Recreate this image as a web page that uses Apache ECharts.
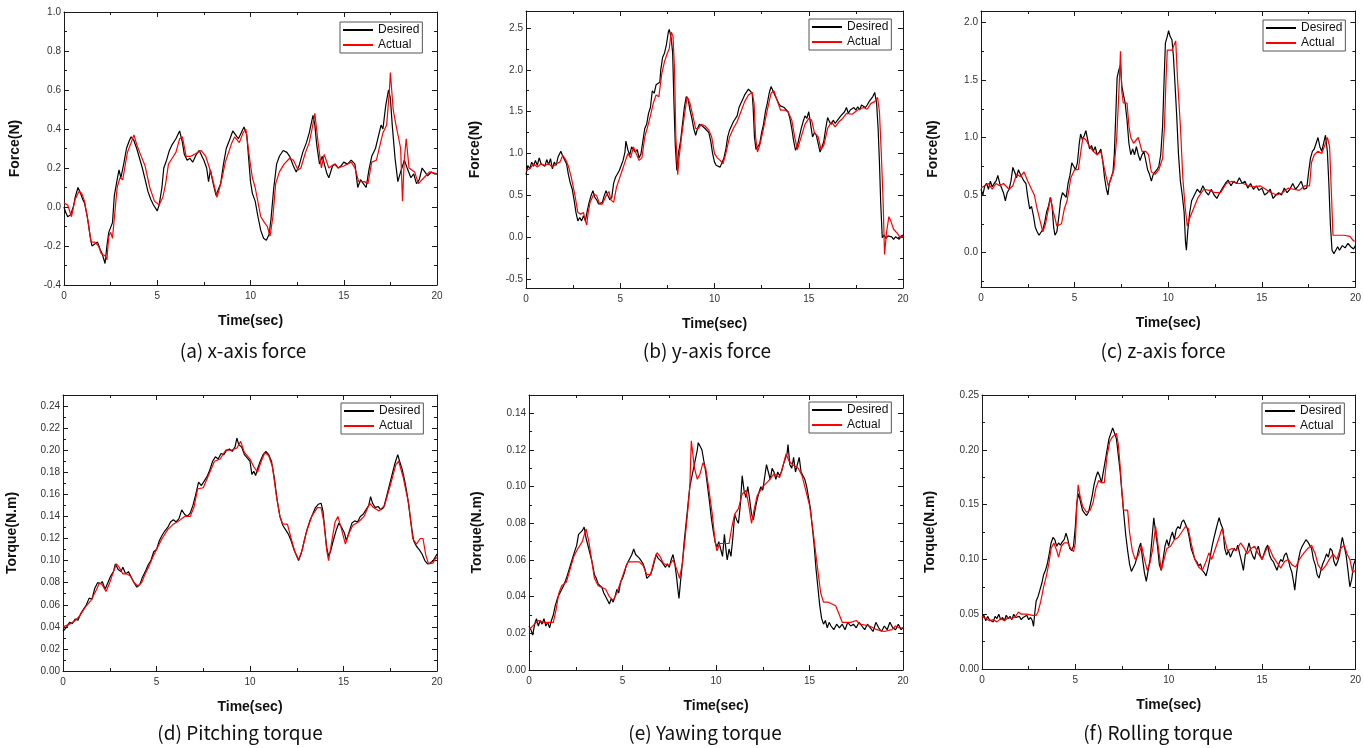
<!DOCTYPE html>
<html><head><meta charset="utf-8">
<script src="https://cdn.jsdelivr.net/npm/echarts@6/dist/echarts.min.js"></script>
<style>html,body{margin:0;padding:0;background:#fff}#c{width:1364px;height:748px}</style>
</head><body><div id="c"></div><script>
// ---------- DATA (time in sec, value) ----------
const fxDesired = [[0,0.0],[0.1,-0.03],[0.2,-0.05],[0.35,-0.04],[0.5,0.0],[0.6,0.05],[0.75,0.1],[0.85,0.08],[1.0,0.04],[1.1,0.02],[1.25,-0.05],[1.4,-0.15],[1.5,-0.2],[1.65,-0.19],[1.8,-0.18],[1.95,-0.22],[2.05,-0.24],[2.2,-0.29],[2.3,-0.2],[2.4,-0.13],[2.5,-0.14],[2.6,-0.08],[2.7,0.06],[2.85,0.14],[2.95,0.19],[3.05,0.15],[3.2,0.22],[3.35,0.3],[3.5,0.34],[3.6,0.36],[3.75,0.34],[3.9,0.3],[4.05,0.25],[4.2,0.2],[4.35,0.14],[4.5,0.08],[4.65,0.04],[4.8,0.01],[5.0,-0.02],[5.1,0.01],[5.25,0.1],[5.35,0.2],[5.5,0.24],[5.65,0.29],[5.8,0.32],[6.0,0.35],[6.2,0.39],[6.35,0.33],[6.45,0.27],[6.6,0.24],[6.75,0.25],[6.9,0.23],[7.1,0.27],[7.25,0.29],[7.35,0.3],[7.5,0.24],[7.65,0.2],[7.75,0.13],[7.85,0.19],[8.0,0.12],[8.15,0.06],[8.25,0.05],[8.4,0.12],[8.55,0.22],[8.7,0.3],[8.9,0.35],[9.05,0.39],[9.2,0.37],[9.35,0.35],[9.5,0.38],[9.65,0.41],[9.8,0.37],[9.9,0.25],[10.0,0.13],[10.1,0.07],[10.25,0.03],[10.4,-0.05],[10.55,-0.12],[10.7,-0.16],[10.85,-0.17],[11.0,-0.14],[11.1,-0.06],[11.25,0.1],[11.4,0.22],[11.55,0.26],[11.75,0.29],[11.95,0.28],[12.1,0.26],[12.3,0.21],[12.45,0.18],[12.6,0.21],[12.8,0.28],[13.0,0.33],[13.15,0.38],[13.35,0.47],[13.45,0.42],[13.55,0.32],[13.7,0.22],[13.85,0.26],[13.95,0.25],[14.1,0.17],[14.2,0.15],[14.4,0.21],[14.55,0.22],[14.7,0.2],[14.85,0.21],[15.0,0.23],[15.2,0.22],[15.4,0.24],[15.6,0.22],[15.75,0.1],[15.9,0.14],[16.05,0.12],[16.2,0.1],[16.35,0.19],[16.5,0.26],[16.7,0.3],[16.85,0.36],[17.0,0.42],[17.1,0.4],[17.25,0.52],[17.4,0.6],[17.5,0.56],[17.6,0.42],[17.75,0.25],[17.9,0.13],[18.05,0.18],[18.25,0.24],[18.4,0.2],[18.6,0.15],[18.75,0.17],[18.9,0.12],[19.05,0.14],[19.2,0.2],[19.35,0.18],[19.5,0.16],[19.7,0.18],[19.85,0.17],[20,0.17]];
const fxActual = [[0,0.02],[0.2,0.01],[0.4,-0.05],[0.6,0.04],[0.8,0.08],[0.95,0.07],[1.1,0.03],[1.3,-0.08],[1.45,-0.18],[1.65,-0.18],[1.85,-0.2],[2.0,-0.24],[2.2,-0.25],[2.3,-0.27],[2.4,-0.15],[2.5,-0.13],[2.6,-0.16],[2.7,-0.15],[2.85,0.1],[3.0,0.15],[3.15,0.14],[3.25,0.13],[3.4,0.28],[3.6,0.33],[3.75,0.37],[3.9,0.32],[4.1,0.27],[4.35,0.21],[4.6,0.1],[4.85,0.03],[5.1,0.01],[5.3,0.05],[5.45,0.12],[5.6,0.22],[5.8,0.25],[6.0,0.28],[6.2,0.35],[6.35,0.36],[6.55,0.26],[6.8,0.26],[7.0,0.27],[7.35,0.29],[7.6,0.26],[7.8,0.2],[7.95,0.15],[8.2,0.05],[8.35,0.1],[8.5,0.16],[8.65,0.23],[9.0,0.33],[9.15,0.36],[9.4,0.33],[9.6,0.38],[9.75,0.4],[9.95,0.25],[10.1,0.15],[10.25,0.1],[10.35,0.1],[10.55,-0.05],[10.75,-0.08],[10.9,-0.1],[11.05,-0.15],[11.2,-0.05],[11.35,0.12],[11.55,0.18],[11.8,0.22],[12.1,0.25],[12.3,0.24],[12.55,0.19],[12.7,0.2],[12.95,0.28],[13.15,0.33],[13.3,0.4],[13.45,0.48],[13.6,0.35],[13.8,0.2],[13.95,0.27],[14.2,0.2],[14.5,0.22],[14.7,0.2],[15.0,0.21],[15.4,0.23],[15.6,0.2],[15.8,0.13],[16.1,0.13],[16.3,0.12],[16.5,0.23],[16.75,0.24],[17.1,0.38],[17.3,0.42],[17.45,0.6],[17.5,0.69],[17.65,0.5],[17.8,0.42],[17.95,0.35],[18.05,0.3],[18.15,0.03],[18.25,0.25],[18.35,0.35],[18.5,0.2],[18.8,0.18],[19.0,0.12],[19.3,0.15],[19.6,0.18],[20,0.17]];

const fyDesired = [[0,0.75],[0.1,0.86],[0.2,0.82],[0.3,0.9],[0.4,0.85],[0.5,0.92],[0.6,0.86],[0.7,0.95],[0.8,0.88],[0.9,0.9],[1.0,0.85],[1.1,0.93],[1.2,0.87],[1.3,0.94],[1.4,0.82],[1.5,0.9],[1.6,0.86],[1.7,0.96],[1.8,0.98],[1.85,1.03],[1.95,0.97],[2.05,0.95],[2.15,0.88],[2.25,0.75],[2.35,0.65],[2.45,0.58],[2.55,0.45],[2.65,0.3],[2.75,0.2],[2.85,0.24],[2.95,0.2],[3.05,0.26],[3.15,0.2],[3.25,0.32],[3.35,0.42],[3.45,0.5],[3.55,0.56],[3.65,0.48],[3.75,0.45],[3.85,0.4],[3.95,0.38],[4.05,0.42],[4.15,0.5],[4.25,0.56],[4.35,0.5],[4.45,0.45],[4.55,0.48],[4.65,0.65],[4.75,0.72],[4.85,0.7],[4.95,0.8],[5.05,0.86],[5.15,0.92],[5.25,1.02],[5.3,1.15],[5.4,1.05],[5.5,0.98],[5.6,1.08],[5.7,1.1],[5.8,1.02],[5.9,1.05],[6.0,0.95],[6.1,1.0],[6.2,1.15],[6.3,1.3],[6.4,1.35],[6.5,1.48],[6.6,1.55],[6.7,1.75],[6.8,1.72],[6.9,1.82],[7.0,1.8],[7.1,1.85],[7.15,2.0],[7.25,2.15],[7.35,2.2],[7.45,2.3],[7.55,2.45],[7.6,2.48],[7.7,2.38],[7.78,2.2],[7.85,1.6],[7.92,1.1],[8.0,0.8],[8.08,1.0],[8.2,1.15],[8.3,1.35],[8.4,1.55],[8.5,1.68],[8.6,1.65],[8.7,1.52],[8.8,1.42],[8.9,1.3],[9.0,1.22],[9.1,1.3],[9.2,1.35],[9.35,1.33],[9.5,1.3],[9.6,1.3],[9.7,1.25],[9.8,1.15],[9.9,1.0],[10.0,0.9],[10.1,0.86],[10.2,0.88],[10.3,0.84],[10.4,0.86],[10.5,0.95],[10.6,1.05],[10.7,1.2],[10.8,1.28],[10.9,1.3],[11.0,1.38],[11.1,1.4],[11.2,1.45],[11.3,1.55],[11.4,1.6],[11.5,1.65],[11.6,1.7],[11.7,1.72],[11.8,1.77],[11.9,1.78],[12.0,1.72],[12.05,1.55],[12.12,1.2],[12.2,1.05],[12.3,1.05],[12.4,1.12],[12.5,1.25],[12.6,1.35],[12.7,1.5],[12.8,1.6],[12.9,1.72],[13.0,1.8],[13.1,1.78],[13.2,1.7],[13.3,1.68],[13.4,1.6],[13.5,1.57],[13.6,1.58],[13.7,1.55],[13.8,1.56],[13.9,1.5],[14.0,1.42],[14.1,1.3],[14.2,1.15],[14.3,1.04],[14.4,1.1],[14.5,1.2],[14.6,1.3],[14.7,1.38],[14.8,1.45],[14.9,1.42],[15.0,1.5],[15.1,1.35],[15.2,1.2],[15.3,1.25],[15.4,1.22],[15.5,1.12],[15.6,1.02],[15.7,1.08],[15.8,1.15],[15.9,1.3],[16.0,1.43],[16.1,1.38],[16.2,1.35],[16.3,1.4],[16.4,1.36],[16.5,1.38],[16.6,1.42],[16.7,1.45],[16.8,1.44],[16.9,1.5],[17.0,1.55],[17.1,1.48],[17.2,1.52],[17.3,1.5],[17.4,1.55],[17.5,1.52],[17.6,1.56],[17.7,1.52],[17.8,1.58],[17.9,1.6],[18.0,1.55],[18.1,1.58],[18.2,1.62],[18.3,1.6],[18.4,1.68],[18.5,1.73],[18.6,1.6],[18.68,1.3],[18.75,0.9],[18.82,0.4],[18.9,0.0],[19.0,0.03],[19.1,-0.01],[19.2,0.02],[19.3,0.0],[19.4,0.01],[19.5,-0.02],[19.6,0.01],[19.7,-0.01],[19.8,-0.02],[19.9,0.02],[20,0.03]];
const fyActual = [[0,0.8],[0.2,0.82],[0.4,0.88],[0.6,0.84],[0.8,0.88],[1.0,0.86],[1.2,0.88],[1.4,0.84],[1.6,0.88],[1.8,0.9],[1.95,0.98],[2.1,0.93],[2.25,0.85],[2.4,0.72],[2.5,0.72],[2.6,0.5],[2.75,0.3],[2.9,0.28],[3.05,0.3],[3.15,0.2],[3.22,0.15],[3.3,0.3],[3.4,0.42],[3.6,0.52],[3.75,0.5],[3.9,0.4],[4.05,0.4],[4.25,0.5],[4.4,0.55],[4.5,0.45],[4.65,0.42],[4.8,0.6],[4.95,0.7],[5.1,0.8],[5.25,0.9],[5.4,1.0],[5.55,0.95],[5.7,1.08],[5.85,1.0],[6.0,0.92],[6.15,0.95],[6.3,1.2],[6.45,1.32],[6.6,1.45],[6.75,1.6],[6.9,1.7],[7.05,1.68],[7.2,1.95],[7.35,2.1],[7.5,2.2],[7.6,2.25],[7.7,2.45],[7.8,2.4],[7.88,2.0],[7.95,1.2],[8.05,0.75],[8.12,0.95],[8.25,1.2],[8.4,1.45],[8.55,1.68],[8.7,1.6],[8.85,1.45],[9.0,1.3],[9.15,1.3],[9.3,1.35],[9.5,1.33],[9.7,1.28],[9.85,1.2],[10.0,1.0],[10.15,0.95],[10.3,0.92],[10.45,0.88],[10.6,1.0],[10.8,1.2],[11.0,1.3],[11.2,1.38],[11.4,1.5],[11.6,1.62],[11.8,1.7],[12.0,1.73],[12.1,1.6],[12.18,1.2],[12.28,1.02],[12.4,1.1],[12.6,1.3],[12.8,1.52],[13.0,1.72],[13.15,1.75],[13.3,1.65],[13.5,1.52],[13.7,1.52],[13.9,1.5],[14.1,1.4],[14.25,1.2],[14.4,1.05],[14.6,1.2],[14.8,1.35],[15.0,1.42],[15.15,1.4],[15.3,1.25],[15.5,1.2],[15.65,1.05],[15.8,1.1],[16.0,1.3],[16.2,1.38],[16.4,1.32],[16.6,1.38],[16.8,1.42],[17.0,1.48],[17.3,1.47],[17.6,1.52],[17.9,1.55],[18.1,1.53],[18.3,1.6],[18.5,1.62],[18.65,1.67],[18.75,1.5],[18.85,1.0],[18.95,0.4],[19.02,-0.2],[19.12,0.05],[19.25,0.25],[19.35,0.2],[19.5,0.1],[19.7,0.05],[19.85,0.0],[20,0.02]];

const fzDesired = [[0,0.55],[0.1,0.5],[0.2,0.58],[0.3,0.6],[0.4,0.55],[0.5,0.62],[0.6,0.57],[0.7,0.6],[0.8,0.62],[0.9,0.67],[1.0,0.6],[1.1,0.56],[1.2,0.52],[1.3,0.45],[1.4,0.52],[1.5,0.55],[1.6,0.62],[1.7,0.74],[1.8,0.7],[1.9,0.65],[2.0,0.72],[2.1,0.68],[2.2,0.65],[2.3,0.62],[2.4,0.6],[2.5,0.48],[2.6,0.38],[2.7,0.4],[2.8,0.32],[2.9,0.22],[3.0,0.18],[3.1,0.15],[3.2,0.16],[3.3,0.2],[3.4,0.26],[3.5,0.35],[3.6,0.4],[3.7,0.48],[3.8,0.4],[3.88,0.22],[3.95,0.15],[4.05,0.18],[4.15,0.3],[4.25,0.45],[4.35,0.52],[4.45,0.5],[4.55,0.48],[4.65,0.6],[4.75,0.67],[4.85,0.78],[4.95,0.75],[5.05,0.72],[5.15,0.78],[5.25,0.95],[5.32,1.03],[5.42,0.98],[5.52,1.02],[5.6,1.06],[5.7,0.98],[5.8,0.9],[5.9,0.93],[6.0,0.88],[6.1,0.92],[6.2,0.85],[6.3,0.87],[6.4,0.9],[6.5,0.8],[6.6,0.65],[6.7,0.55],[6.78,0.5],[6.85,0.6],[6.95,0.65],[7.05,0.7],[7.12,0.85],[7.2,1.2],[7.27,1.52],[7.35,1.58],[7.45,1.63],[7.52,1.45],[7.6,1.38],[7.7,1.3],[7.8,1.15],[7.9,0.95],[8.0,0.85],[8.1,0.9],[8.2,0.85],[8.3,0.92],[8.4,0.85],[8.5,0.8],[8.6,0.85],[8.7,0.88],[8.8,0.8],[8.9,0.72],[9.0,0.68],[9.1,0.62],[9.2,0.68],[9.3,0.7],[9.4,0.72],[9.5,0.75],[9.6,0.85],[9.7,1.1],[9.78,1.5],[9.85,1.82],[9.95,1.88],[10.02,1.93],[10.1,1.88],[10.2,1.85],[10.28,1.7],[10.35,1.5],[10.45,1.2],[10.55,0.85],[10.65,0.62],[10.75,0.5],[10.85,0.35],[10.92,0.1],[10.97,0.02],[11.05,0.2],[11.15,0.35],[11.25,0.45],[11.4,0.5],[11.55,0.55],[11.7,0.52],[11.85,0.58],[12.0,0.53],[12.15,0.5],[12.3,0.55],[12.45,0.5],[12.6,0.47],[12.75,0.52],[12.9,0.56],[13.05,0.6],[13.2,0.63],[13.35,0.58],[13.5,0.62],[13.65,0.6],[13.8,0.65],[13.95,0.6],[14.1,0.62],[14.25,0.56],[14.4,0.6],[14.55,0.55],[14.7,0.58],[14.85,0.54],[15.0,0.56],[15.15,0.5],[15.3,0.52],[15.45,0.55],[15.6,0.47],[15.75,0.5],[15.9,0.52],[16.05,0.5],[16.2,0.56],[16.35,0.52],[16.5,0.55],[16.65,0.6],[16.8,0.55],[16.95,0.58],[17.1,0.62],[17.25,0.55],[17.4,0.56],[17.5,0.7],[17.6,0.82],[17.7,0.88],[17.8,0.9],[17.9,0.95],[18.0,1.0],[18.1,0.92],[18.2,0.88],[18.3,0.95],[18.4,1.02],[18.5,0.88],[18.58,0.6],[18.66,0.25],[18.75,0.02],[18.85,-0.01],[18.95,0.02],[19.05,0.05],[19.15,0.02],[19.3,0.06],[19.45,0.04],[19.6,0.08],[19.75,0.05],[19.9,0.03],[20,0.06]];
const fzActual = [[0,0.56],[0.2,0.58],[0.4,0.6],[0.6,0.55],[0.8,0.6],[1.0,0.58],[1.2,0.6],[1.5,0.55],[1.7,0.58],[1.9,0.68],[2.1,0.66],[2.3,0.7],[2.5,0.62],[2.7,0.55],[2.85,0.5],[3.0,0.38],[3.15,0.28],[3.3,0.18],[3.45,0.25],[3.6,0.38],[3.72,0.48],[3.82,0.38],[3.95,0.3],[4.05,0.23],[4.3,0.25],[4.45,0.38],[4.6,0.45],[4.8,0.65],[5.0,0.72],[5.2,0.72],[5.35,0.9],[5.45,1.0],[5.6,0.98],[5.8,0.92],[6.0,0.88],[6.2,0.85],[6.4,0.88],[6.6,0.72],[6.8,0.58],[6.9,0.62],[7.1,0.72],[7.25,1.0],[7.38,1.45],[7.45,1.75],[7.52,1.4],[7.6,1.3],[7.8,1.3],[7.9,1.1],[8.0,1.0],[8.15,0.95],[8.4,1.0],[8.6,0.88],[8.8,0.88],[8.95,0.85],[9.1,0.7],[9.3,0.68],[9.5,0.72],[9.7,0.82],[9.8,1.1],[9.88,1.5],[9.95,1.76],[10.2,1.76],[10.3,1.8],[10.4,1.84],[10.5,1.5],[10.65,1.1],[10.78,0.65],[10.9,0.4],[11.02,0.23],[11.15,0.3],[11.35,0.38],[11.6,0.48],[11.9,0.55],[12.2,0.54],[12.5,0.52],[12.8,0.52],[13.1,0.6],[13.4,0.62],[13.7,0.6],[14.0,0.6],[14.3,0.58],[14.6,0.57],[14.9,0.58],[15.2,0.55],[15.5,0.52],[15.8,0.5],[16.1,0.52],[16.4,0.56],[16.7,0.55],[17.0,0.54],[17.3,0.58],[17.55,0.58],[17.65,0.78],[17.8,0.85],[18.0,0.88],[18.2,0.86],[18.4,0.95],[18.5,1.0],[18.62,0.92],[18.72,0.5],[18.8,0.15],[19.0,0.15],[19.4,0.15],[19.7,0.14],[19.9,0.1],[20,0.1]];

const tpDesired = [[0,0.036],[0.2,0.04],[0.35,0.044],[0.5,0.043],[0.65,0.047],[0.8,0.046],[0.95,0.052],[1.1,0.056],[1.25,0.06],[1.4,0.066],[1.55,0.065],[1.7,0.075],[1.85,0.08],[2.0,0.079],[2.1,0.081],[2.25,0.074],[2.4,0.08],[2.55,0.086],[2.7,0.09],[2.8,0.097],[2.95,0.092],[3.1,0.09],[3.2,0.094],[3.35,0.088],[3.5,0.09],[3.65,0.085],[3.8,0.08],[3.95,0.076],[4.1,0.078],[4.25,0.085],[4.4,0.09],[4.55,0.096],[4.7,0.1],[4.85,0.108],[5.0,0.11],[5.15,0.118],[5.3,0.123],[5.45,0.127],[5.6,0.13],[5.75,0.135],[5.9,0.137],[6.05,0.135],[6.2,0.138],[6.35,0.146],[6.5,0.142],[6.65,0.14],[6.8,0.143],[6.95,0.15],[7.1,0.16],[7.25,0.171],[7.4,0.168],[7.55,0.172],[7.7,0.176],[7.85,0.182],[8.0,0.19],[8.15,0.194],[8.3,0.192],[8.45,0.197],[8.6,0.196],[8.75,0.2],[8.9,0.201],[9.05,0.199],[9.2,0.203],[9.3,0.211],[9.4,0.205],[9.55,0.203],[9.7,0.196],[9.85,0.193],[10.0,0.19],[10.1,0.178],[10.2,0.181],[10.3,0.177],[10.4,0.183],[10.55,0.19],[10.7,0.196],[10.85,0.199],[11.0,0.196],[11.15,0.19],[11.3,0.175],[11.45,0.155],[11.6,0.14],[11.75,0.132],[11.9,0.128],[12.05,0.124],[12.2,0.118],[12.35,0.11],[12.5,0.104],[12.6,0.1],[12.75,0.107],[12.9,0.118],[13.05,0.128],[13.2,0.136],[13.35,0.142],[13.5,0.148],[13.65,0.151],[13.8,0.152],[13.9,0.145],[14.0,0.128],[14.1,0.112],[14.2,0.104],[14.3,0.108],[14.45,0.118],[14.6,0.127],[14.75,0.134],[14.9,0.13],[15.05,0.125],[15.15,0.118],[15.3,0.126],[15.45,0.134],[15.6,0.136],[15.75,0.135],[15.9,0.14],[16.05,0.142],[16.2,0.146],[16.35,0.15],[16.45,0.158],[16.55,0.152],[16.7,0.148],[16.85,0.149],[17.0,0.146],[17.15,0.148],[17.3,0.158],[17.45,0.168],[17.6,0.178],[17.75,0.188],[17.9,0.196],[18.0,0.19],[18.15,0.182],[18.3,0.17],[18.45,0.155],[18.6,0.135],[18.75,0.118],[18.9,0.113],[19.05,0.11],[19.2,0.106],[19.35,0.1],[19.5,0.097],[19.65,0.098],[19.8,0.1],[19.9,0.103],[20,0.106]];
const tpActual = [[0,0.04],[0.3,0.042],[0.6,0.045],[0.9,0.05],[1.2,0.058],[1.5,0.064],[1.8,0.074],[1.95,0.08],[2.1,0.078],[2.3,0.072],[2.5,0.08],[2.7,0.09],[2.85,0.097],[3.0,0.094],[3.2,0.088],[3.4,0.088],[3.6,0.086],[3.8,0.08],[4.0,0.077],[4.2,0.08],[4.4,0.088],[4.6,0.095],[4.8,0.103],[5.0,0.11],[5.3,0.12],[5.6,0.128],[5.9,0.133],[6.2,0.136],[6.5,0.14],[6.8,0.14],[7.0,0.148],[7.2,0.165],[7.5,0.166],[7.8,0.178],[8.1,0.19],[8.4,0.192],[8.7,0.2],[9.0,0.2],[9.3,0.202],[9.5,0.208],[9.7,0.198],[10.0,0.192],[10.2,0.185],[10.4,0.18],[10.6,0.19],[10.8,0.198],[11.0,0.195],[11.2,0.185],[11.4,0.16],[11.6,0.14],[11.75,0.133],[12.0,0.133],[12.2,0.12],[12.4,0.108],[12.6,0.101],[12.8,0.11],[13.0,0.125],[13.3,0.14],[13.6,0.148],[13.8,0.148],[13.95,0.135],[14.1,0.11],[14.2,0.1],[14.35,0.115],[14.55,0.135],[14.7,0.14],[14.9,0.128],[15.1,0.115],[15.3,0.125],[15.5,0.132],[15.8,0.135],[16.1,0.14],[16.4,0.152],[16.6,0.148],[16.9,0.145],[17.2,0.15],[17.5,0.168],[17.8,0.187],[17.95,0.19],[18.2,0.175],[18.5,0.15],[18.7,0.12],[18.9,0.115],[19.1,0.12],[19.25,0.12],[19.4,0.105],[19.55,0.097],[19.8,0.098],[19.95,0.103],[20,0.102]];

const tyDesired = [[0,0.024],[0.1,0.022],[0.2,0.019],[0.3,0.025],[0.4,0.028],[0.5,0.024],[0.6,0.027],[0.7,0.025],[0.8,0.028],[0.9,0.024],[1.0,0.026],[1.1,0.023],[1.2,0.027],[1.3,0.03],[1.4,0.035],[1.55,0.04],[1.7,0.043],[1.85,0.046],[2.0,0.05],[2.15,0.055],[2.3,0.06],[2.45,0.065],[2.55,0.068],[2.65,0.074],[2.75,0.073],[2.85,0.076],[2.95,0.078],[3.05,0.072],[3.2,0.066],[3.35,0.06],[3.5,0.052],[3.6,0.05],[3.7,0.047],[3.8,0.048],[3.9,0.045],[4.0,0.042],[4.1,0.043],[4.2,0.038],[4.3,0.036],[4.4,0.039],[4.5,0.037],[4.6,0.04],[4.7,0.044],[4.8,0.042],[4.9,0.048],[5.0,0.05],[5.1,0.053],[5.2,0.057],[5.35,0.06],[5.5,0.063],[5.6,0.066],[5.7,0.063],[5.8,0.064],[5.9,0.061],[6.0,0.06],[6.1,0.058],[6.2,0.055],[6.3,0.05],[6.4,0.051],[6.5,0.052],[6.6,0.055],[6.7,0.059],[6.8,0.063],[6.9,0.061],[7.0,0.062],[7.1,0.059],[7.2,0.06],[7.3,0.056],[7.4,0.058],[7.5,0.056],[7.6,0.06],[7.7,0.063],[7.8,0.058],[7.9,0.05],[7.95,0.045],[8.02,0.039],[8.1,0.048],[8.2,0.058],[8.3,0.07],[8.4,0.08],[8.5,0.09],[8.6,0.1],[8.7,0.105],[8.8,0.11],[8.9,0.115],[9.0,0.12],[9.05,0.124],[9.15,0.122],[9.25,0.12],[9.35,0.114],[9.45,0.108],[9.55,0.1],[9.65,0.092],[9.75,0.083],[9.85,0.076],[9.95,0.07],[10.05,0.067],[10.15,0.07],[10.25,0.066],[10.35,0.062],[10.45,0.074],[10.55,0.064],[10.6,0.06],[10.7,0.066],[10.8,0.062],[10.9,0.072],[11.0,0.085],[11.1,0.082],[11.2,0.08],[11.3,0.09],[11.4,0.106],[11.5,0.098],[11.6,0.094],[11.7,0.1],[11.8,0.093],[11.9,0.085],[12.0,0.082],[12.1,0.088],[12.2,0.093],[12.3,0.097],[12.4,0.1],[12.5,0.098],[12.6,0.105],[12.7,0.112],[12.8,0.108],[12.9,0.104],[13.0,0.11],[13.1,0.108],[13.2,0.104],[13.3,0.108],[13.4,0.106],[13.5,0.108],[13.6,0.112],[13.7,0.115],[13.8,0.118],[13.85,0.123],[13.95,0.112],[14.05,0.11],[14.15,0.116],[14.25,0.108],[14.35,0.112],[14.45,0.116],[14.55,0.108],[14.65,0.106],[14.75,0.104],[14.85,0.1],[14.95,0.094],[15.05,0.088],[15.15,0.078],[15.25,0.068],[15.35,0.055],[15.45,0.045],[15.55,0.035],[15.65,0.028],[15.75,0.025],[15.85,0.027],[15.95,0.023],[16.05,0.026],[16.15,0.024],[16.3,0.022],[16.45,0.025],[16.6,0.023],[16.75,0.025],[16.9,0.022],[17.05,0.026],[17.2,0.024],[17.35,0.025],[17.5,0.023],[17.65,0.026],[17.8,0.024],[17.95,0.022],[18.1,0.025],[18.25,0.023],[18.4,0.021],[18.55,0.026],[18.7,0.023],[18.85,0.021],[19.0,0.024],[19.15,0.022],[19.3,0.026],[19.45,0.023],[19.6,0.022],[19.75,0.025],[19.9,0.022],[20,0.023]];
const tyActual = [[0,0.022],[0.3,0.025],[0.5,0.027],[0.8,0.026],[1.0,0.026],[1.3,0.026],[1.45,0.033],[1.6,0.042],[1.75,0.046],[2.0,0.048],[2.2,0.055],[2.4,0.062],[2.6,0.066],[2.85,0.07],[3.05,0.077],[3.2,0.07],[3.35,0.06],[3.5,0.05],[3.7,0.046],[3.9,0.045],[4.1,0.044],[4.3,0.04],[4.5,0.038],[4.7,0.042],[4.9,0.048],[5.1,0.054],[5.3,0.059],[5.6,0.059],[5.9,0.059],[6.1,0.057],[6.3,0.052],[6.5,0.052],[6.7,0.06],[6.85,0.064],[7.0,0.062],[7.2,0.058],[7.5,0.057],[7.7,0.06],[7.9,0.055],[8.05,0.05],[8.2,0.058],[8.35,0.072],[8.5,0.088],[8.6,0.1],[8.68,0.125],[8.78,0.125],[8.85,0.11],[9.0,0.104],[9.15,0.107],[9.3,0.113],[9.45,0.11],[9.6,0.1],[9.8,0.085],[9.95,0.07],[10.05,0.065],[10.2,0.069],[10.7,0.069],[10.85,0.078],[11.0,0.085],[11.2,0.088],[11.4,0.096],[11.6,0.098],[11.75,0.09],[11.9,0.08],[12.05,0.088],[12.2,0.095],[12.5,0.1],[12.8,0.103],[13.1,0.107],[13.4,0.105],[13.6,0.112],[13.75,0.118],[13.9,0.114],[14.1,0.112],[14.4,0.11],[14.6,0.106],[14.8,0.098],[15.0,0.09],[15.2,0.075],[15.4,0.058],[15.6,0.042],[15.75,0.037],[16.0,0.037],[16.4,0.035],[16.6,0.03],[16.75,0.026],[17.2,0.026],[17.5,0.027],[17.7,0.025],[18.2,0.024],[18.6,0.022],[19.0,0.021],[19.4,0.022],[19.6,0.024],[19.8,0.023],[20,0.023]];

const trDesired = [[0,0.047],[0.1,0.049],[0.2,0.044],[0.3,0.048],[0.4,0.045],[0.5,0.046],[0.6,0.043],[0.7,0.048],[0.8,0.046],[0.9,0.05],[1.0,0.045],[1.1,0.047],[1.2,0.044],[1.3,0.049],[1.4,0.046],[1.5,0.048],[1.6,0.045],[1.7,0.05],[1.8,0.047],[1.9,0.046],[2.0,0.048],[2.1,0.045],[2.2,0.047],[2.3,0.046],[2.4,0.049],[2.5,0.045],[2.6,0.047],[2.7,0.044],[2.76,0.039],[2.82,0.05],[2.9,0.062],[3.0,0.066],[3.1,0.072],[3.2,0.078],[3.3,0.086],[3.4,0.09],[3.5,0.096],[3.6,0.105],[3.7,0.115],[3.8,0.12],[3.9,0.118],[4.0,0.112],[4.1,0.115],[4.2,0.113],[4.3,0.116],[4.4,0.118],[4.5,0.124],[4.6,0.118],[4.7,0.11],[4.8,0.108],[4.9,0.112],[5.0,0.13],[5.08,0.152],[5.18,0.16],[5.28,0.152],[5.38,0.145],[5.5,0.142],[5.6,0.14],[5.7,0.143],[5.8,0.15],[5.9,0.158],[6.0,0.168],[6.1,0.175],[6.2,0.18],[6.3,0.176],[6.4,0.17],[6.5,0.18],[6.6,0.19],[6.7,0.2],[6.8,0.21],[6.9,0.215],[7.0,0.22],[7.1,0.215],[7.2,0.21],[7.3,0.195],[7.4,0.18],[7.5,0.16],[7.6,0.14],[7.7,0.122],[7.8,0.108],[7.9,0.096],[8.0,0.089],[8.1,0.09],[8.2,0.096],[8.3,0.102],[8.4,0.11],[8.5,0.115],[8.6,0.1],[8.7,0.088],[8.8,0.08],[8.9,0.09],[9.0,0.1],[9.1,0.118],[9.2,0.138],[9.3,0.125],[9.4,0.112],[9.5,0.095],[9.6,0.09],[9.7,0.1],[9.8,0.112],[9.9,0.118],[10.0,0.112],[10.1,0.12],[10.2,0.125],[10.3,0.118],[10.4,0.127],[10.5,0.13],[10.6,0.128],[10.7,0.134],[10.8,0.136],[10.9,0.132],[11.0,0.128],[11.1,0.12],[11.2,0.11],[11.3,0.105],[11.4,0.1],[11.5,0.098],[11.6,0.094],[11.7,0.096],[11.8,0.09],[11.9,0.088],[12.0,0.085],[12.1,0.092],[12.2,0.1],[12.3,0.11],[12.4,0.118],[12.5,0.125],[12.6,0.132],[12.7,0.138],[12.8,0.132],[12.9,0.128],[13.0,0.11],[13.1,0.104],[13.2,0.108],[13.3,0.102],[13.4,0.106],[13.5,0.11],[13.6,0.108],[13.7,0.113],[13.8,0.105],[13.9,0.098],[14.0,0.09],[14.1,0.104],[14.2,0.108],[14.3,0.115],[14.4,0.108],[14.5,0.103],[14.6,0.1],[14.7,0.108],[14.8,0.112],[14.9,0.104],[15.0,0.1],[15.1,0.105],[15.2,0.11],[15.3,0.113],[15.4,0.104],[15.5,0.1],[15.6,0.098],[15.7,0.094],[15.8,0.09],[15.9,0.096],[16.0,0.1],[16.1,0.098],[16.2,0.104],[16.3,0.106],[16.4,0.1],[16.5,0.093],[16.6,0.088],[16.7,0.078],[16.75,0.072],[16.85,0.088],[16.95,0.1],[17.05,0.108],[17.15,0.112],[17.25,0.115],[17.35,0.118],[17.45,0.116],[17.55,0.113],[17.65,0.11],[17.75,0.1],[17.85,0.095],[17.95,0.086],[18.05,0.083],[18.15,0.09],[18.25,0.096],[18.35,0.1],[18.45,0.105],[18.55,0.102],[18.65,0.11],[18.75,0.108],[18.85,0.098],[18.95,0.094],[19.05,0.098],[19.15,0.104],[19.25,0.116],[19.3,0.12],[19.4,0.112],[19.5,0.104],[19.6,0.09],[19.7,0.075],[19.8,0.082],[19.9,0.095],[20,0.1]];
const trActual = [[0,0.048],[0.2,0.046],[0.4,0.044],[0.6,0.045],[0.8,0.043],[1.0,0.046],[1.2,0.044],[1.4,0.047],[1.6,0.046],[1.8,0.048],[1.95,0.052],[2.1,0.05],[2.4,0.05],[2.7,0.049],[2.9,0.049],[3.0,0.052],[3.15,0.062],[3.3,0.075],[3.45,0.085],[3.6,0.098],[3.7,0.11],[3.85,0.115],[4.0,0.108],[4.1,0.102],[4.25,0.112],[4.4,0.115],[4.6,0.115],[4.75,0.11],[4.9,0.107],[5.0,0.115],[5.08,0.15],[5.15,0.168],[5.25,0.158],[5.4,0.148],[5.6,0.143],[5.8,0.145],[5.95,0.152],[6.1,0.165],[6.25,0.172],[6.4,0.17],[6.55,0.17],[6.7,0.195],[6.85,0.208],[7.0,0.212],[7.2,0.215],[7.3,0.205],[7.4,0.185],[7.5,0.16],[7.58,0.145],[7.8,0.145],[7.9,0.125],[8.05,0.108],[8.2,0.1],[8.35,0.103],[8.55,0.112],[8.7,0.1],[8.85,0.09],[9.0,0.097],[9.15,0.11],[9.3,0.13],[9.45,0.11],[9.6,0.09],[9.75,0.1],[9.9,0.11],[10.1,0.112],[10.3,0.118],[10.5,0.12],[10.7,0.125],[10.9,0.13],[11.05,0.128],[11.2,0.115],[11.4,0.1],[11.6,0.093],[11.8,0.09],[12.0,0.098],[12.15,0.106],[12.3,0.1],[12.5,0.11],[12.7,0.12],[12.85,0.128],[13.0,0.118],[13.15,0.108],[13.4,0.11],[13.6,0.108],[13.85,0.115],[14.05,0.11],[14.2,0.105],[14.4,0.11],[14.6,0.112],[14.8,0.105],[15.0,0.1],[15.2,0.108],[15.35,0.112],[15.6,0.102],[15.8,0.097],[16.0,0.092],[16.2,0.098],[16.4,0.1],[16.6,0.095],[16.8,0.093],[17.0,0.1],[17.2,0.105],[17.45,0.11],[17.65,0.113],[17.85,0.105],[18.0,0.095],[18.2,0.09],[18.4,0.094],[18.6,0.1],[18.8,0.105],[19.0,0.1],[19.2,0.11],[19.4,0.113],[19.55,0.105],[19.7,0.1],[19.85,0.088],[20,0.09]];

// tick labels
const xTicks = [0, 5, 10, 15, 20];
const yTicksA = [-0.4, -0.2, 0.0, 0.2, 0.4, 0.6, 0.8, 1.0];
const yTicksB = [-0.5, 0.0, 0.5, 1.0, 1.5, 2.0, 2.5];
const yTicksC = [0.0, 0.5, 1.0, 1.5, 2.0];
const yTicksD = [0.00, 0.02, 0.04, 0.06, 0.08, 0.10, 0.12, 0.14, 0.16, 0.18, 0.20, 0.22, 0.24];
const yTicksE = [0.00, 0.02, 0.04, 0.06, 0.08, 0.10, 0.12, 0.14];
const yTicksF = [0.00, 0.05, 0.10, 0.15, 0.20, 0.25];
const captions = ['(a) x-axis force', '(b) y-axis force', '(c) z-axis force', '(d) Pitching torque', '(e) Yawing torque', '(f) Rolling torque'];
const yNames = ['Force(N)', 'Force(N)', 'Force(N)', 'Torque(N.m)', 'Torque(N.m)', 'Torque(N.m)'];
const xName = 'Time(sec)';
const seriesNames = ['Desired', 'Actual'];

// ---------- LAYOUT ----------
const panels = [
  {des: fxDesired, act: fxActual, ticks: yTicksA, min: -0.4, max: 1.0, dec: 1, g: [64, 12, 373, 273], nameGap: 42, capX: 243, capY: 351, leg: [340, 22]},
  {des: fyDesired, act: fyActual, ticks: yTicksB, min: -0.6, max: 2.7, dec: 1, g: [526, 11, 377, 277], nameGap: 44, capX: 707, capY: 351, leg: [809, 19]},
  {des: fzDesired, act: fzActual, ticks: yTicksC, min: -0.3, max: 2.1, dec: 1, g: [981, 11, 375, 276], nameGap: 41, capX: 1163, capY: 351, leg: [1263, 20]},
  {des: tpDesired, act: tpActual, ticks: yTicksD, min: 0, max: 0.25, dec: 2, g: [63, 395, 374, 276], nameGap: 44, capX: 240, capY: 733, leg: [341, 403]},
  {des: tyDesired, act: tyActual, ticks: yTicksE, min: 0, max: 0.15, dec: 2, g: [529, 395, 374, 275], nameGap: 45, capX: 705, capY: 733, leg: [809, 402]},
  {des: trDesired, act: trActual, ticks: yTicksF, min: 0, max: 0.25, dec: 2, g: [982, 395, 374, 274], nameGap: 45, capX: 1158, capY: 733, leg: [1262, 403]}
];

const AX = '#1a1a1a';
const labelFont = {fontFamily: 'Liberation Sans, Arial, sans-serif', fontSize: 10, color: '#333'};
const nameFont = {fontFamily: 'Liberation Sans, Arial, sans-serif', fontSize: 14, fontWeight: 'bold', color: '#111'};

const grid = [], xAxis = [], yAxis = [], series = [], legend = [], graphic = [];
panels.forEach((p, i) => {
  grid.push({left: p.g[0], top: p.g[1], width: p.g[2], height: p.g[3], containLabel: false});
  const xBase = {type: 'value', gridIndex: i, min: 0, max: 20, interval: 5,
    axisLine: {show: true, onZero: false, lineStyle: {color: AX, width: 1}},
    axisTick: {show: true, inside: true, length: 5, lineStyle: {color: AX}},
    minorTick: {show: true, splitNumber: 2, length: 3, lineStyle: {color: AX}},
    splitLine: {show: false}, minorSplitLine: {show: false}};
  xAxis.push(Object.assign({}, xBase, {position: 'bottom', name: xName, nameLocation: 'middle', nameGap: 29, nameTextStyle: nameFont,
    axisLabel: Object.assign({margin: 6, customValues: xTicks, formatter: v => String(v)}, labelFont)}));
  xAxis.push(Object.assign({}, xBase, {position: 'top', axisLabel: {show: false}}));
  const minors = [];
  const step = p.ticks[1] - p.ticks[0];
  for (let k = 0; k < p.ticks.length; k++) {
    [p.ticks[k] - step / 2, p.ticks[k] + step / 2].forEach(m => {
      const mm = +m.toFixed(6);
      if (mm > p.min + 1e-9 && mm < p.max - 1e-9 && minors.indexOf(mm) < 0) minors.push(mm);
    });
  }
  const yBase = {type: 'value', gridIndex: i, min: p.min, max: p.max, splitLine: {show: false}};
  yAxis.push(Object.assign({}, yBase, {position: 'left', name: yNames[i], nameLocation: 'middle', nameGap: p.nameGap, nameRotate: 90, nameTextStyle: nameFont,
    axisLine: {show: true, onZero: false, lineStyle: {color: AX, width: 1}},
    axisTick: {show: true, inside: true, length: 5, customValues: p.ticks, lineStyle: {color: AX}},
    axisLabel: Object.assign({margin: 3, customValues: p.ticks, formatter: v => v.toFixed(p.dec)}, labelFont)}));
  yAxis.push(Object.assign({}, yBase, {position: 'left',
    axisLine: {show: false, onZero: false}, axisLabel: {show: false},
    axisTick: {show: true, inside: true, length: 3, customValues: minors, lineStyle: {color: AX}}}));
  yAxis.push(Object.assign({}, yBase, {position: 'right',
    axisLine: {show: true, onZero: false, lineStyle: {color: AX, width: 1}}, axisLabel: {show: false},
    axisTick: {show: true, inside: true, length: 5, customValues: p.ticks, lineStyle: {color: AX}}}));
  yAxis.push(Object.assign({}, yBase, {position: 'right',
    axisLine: {show: false, onZero: false}, axisLabel: {show: false},
    axisTick: {show: true, inside: true, length: 3, customValues: minors, lineStyle: {color: AX}}}));
  series.push({name: seriesNames[0], type: 'line', xAxisIndex: 2 * i, yAxisIndex: 4 * i, data: p.des,
    showSymbol: false, symbol: 'none', lineStyle: {color: '#000', width: 1.2}, itemStyle: {color: '#000'}, animation: false, z: 2});
  series.push({name: seriesNames[1], type: 'line', xAxisIndex: 2 * i, yAxisIndex: 4 * i, data: p.act,
    showSymbol: false, symbol: 'none', lineStyle: {color: '#ff0000', width: 1.2}, itemStyle: {color: '#ff0000'}, animation: false, z: 3});
  legend.push({left: p.leg[0], top: p.leg[1], orient: 'vertical', data: seriesNames, selectedMode: false,
    icon: 'rect', itemWidth: 30, itemHeight: 2, itemGap: 3,
    padding: [2, 3, 2, 3], borderColor: '#555', borderWidth: 1,
    textStyle: {fontFamily: 'Liberation Sans, Arial, sans-serif', fontSize: 12, color: '#111'}});
  graphic.push({type: 'text', x: p.capX, y: p.capY,
    style: {text: captions[i], fill: '#111', font: '19px "Noto Sans CJK KR", "Noto Sans", sans-serif', textAlign: 'center', textVerticalAlign: 'middle'}});
});

const chart = echarts.init(document.getElementById('c'), null, {renderer: 'canvas'});
chart.setOption({backgroundColor: '#fff', animation: false, grid, xAxis, yAxis, series, legend, graphic});
</script></body></html>
